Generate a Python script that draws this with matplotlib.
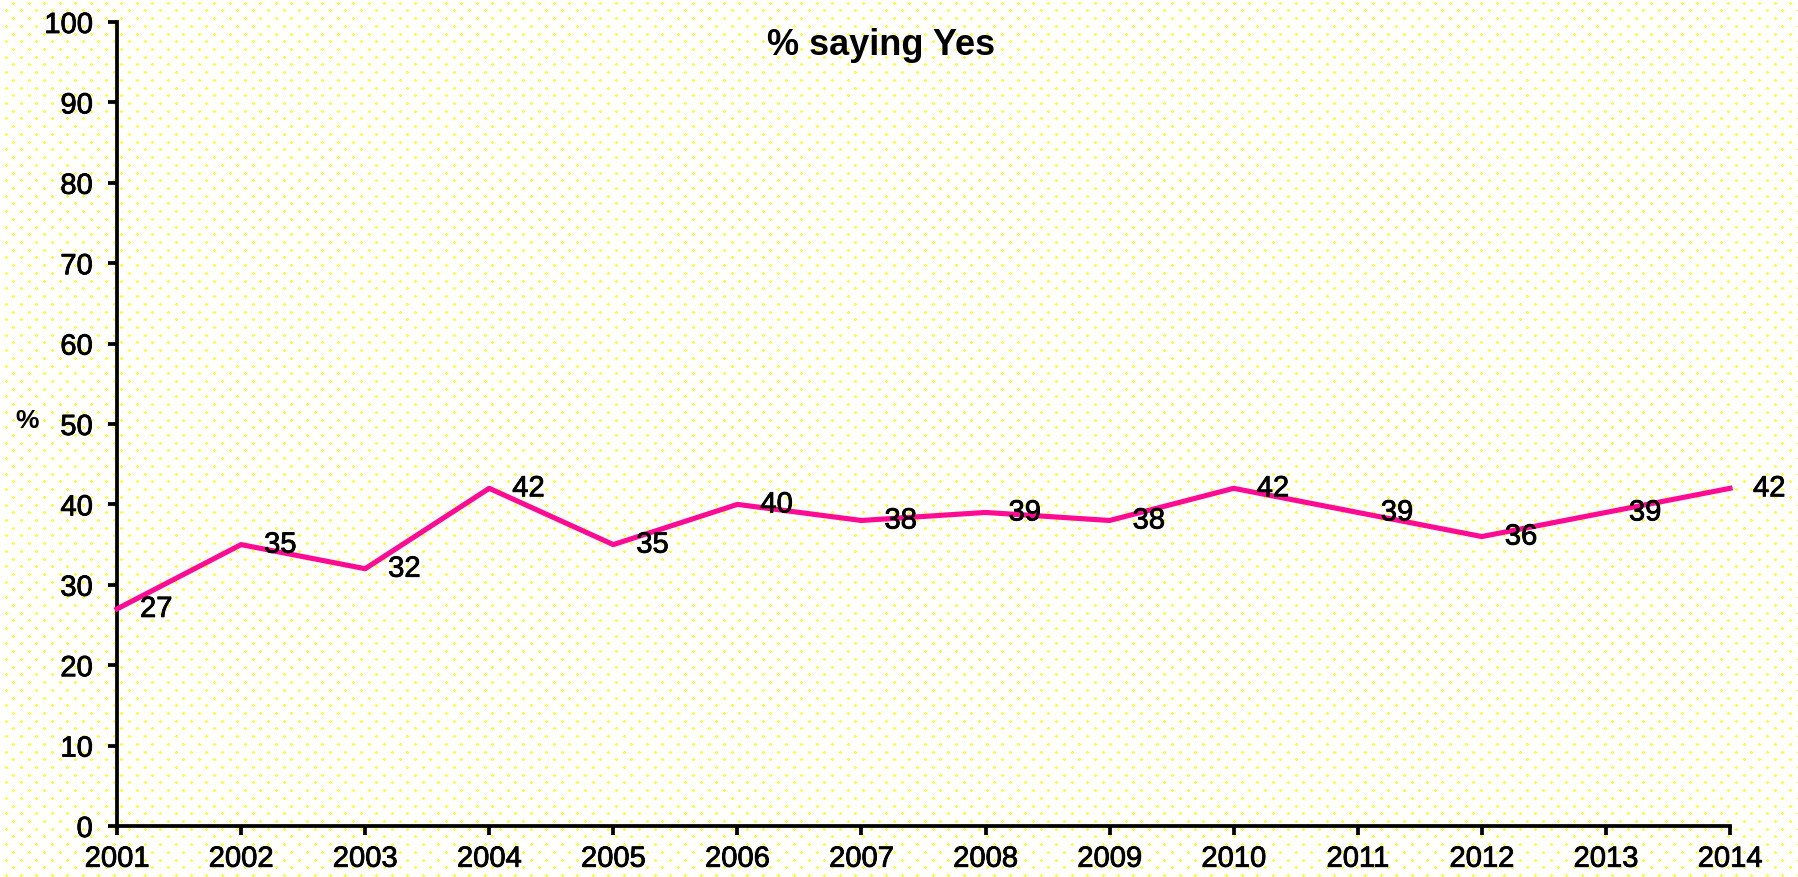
import numpy as np
import matplotlib
matplotlib.use("Agg")
import matplotlib.pyplot as plt
import matplotlib.patheffects as pe

# data
years = [2001, 2002, 2003, 2004, 2005, 2006, 2007, 2008, 2009, 2010, 2011, 2012, 2013, 2014]
pct_yes = [27, 35, 32, 42, 35, 40, 38, 39, 38, 42, 39, 36, 39, 42]
y_ticks = [0, 10, 20, 30, 40, 50, 60, 70, 80, 90, 100]

W, H, DPI = 1798, 877, 100
plt.rcParams['font.family'] = ['Liberation Sans', 'DejaVu Sans']

fig = plt.figure(figsize=(W / DPI, H / DPI), dpi=DPI)

# dotted yellow background (staggered grid)
bg = np.ones((H, W, 3))
yellow = np.array([1.0, 1.0, 0.0])
light = np.array([1.0, 1.0, 0.5])
faint = np.array([1.0, 1.0, 0.75])
row = 0
yy = 2.7
while yy < H:
    off = 13.3 if row % 2 == 0 else 5.6
    xx = off
    while xx < W:
        cx, cy = int(round(xx)), int(round(yy))
        for dx in (-1, 0, 1):
            for dy in (-1, 0, 1):
                px, py = cx + dx, cy + dy
                if 0 <= px < W and 0 <= py < H:
                    if dx == 0 and dy == 0:
                        bg[py, px] = light
                    elif dx == 0 or dy == 0:
                        bg[py, px] = yellow
                    else:
                        bg[py, px] = faint
        xx += 15.45
    yy += 7.72
    row += 1
fig.figimage(bg[::-1], xo=0, yo=0, origin='lower', zorder=-1)
fig.patch.set_alpha(0)

# heavier text, closer to the bitmap look of the original
heavy = [pe.withStroke(linewidth=0.6, foreground='black')]

ax = fig.add_axes([117 / W, 1 - 826 / H, (1730 - 117) / W, (826 - 22) / H])
ax.patch.set_visible(False)

ax.plot(years, pct_yes, color='#FF0A92', linewidth=3.7, clip_on=False, zorder=3)
for x, v in zip(years, pct_yes):
    ax.annotate(str(v), (x, v), xytext=(23, 0), textcoords='offset pixels',
                ha='left', va='center', fontsize=21, color='black', zorder=4,
                path_effects=heavy)

ax.set_xlim(2001, 2014)
ax.set_ylim(0, 100)
ax.set_xticks(years)
ax.set_xticklabels([str(y) for y in years])
ax.set_yticks(y_ticks)
ax.set_yticklabels([str(t) for t in y_ticks])
for lbl in ax.get_xticklabels() + ax.get_yticklabels():
    lbl.set_path_effects(heavy)

for s in ['top', 'right']:
    ax.spines[s].set_visible(False)
for s in ['left', 'bottom']:
    ax.spines[s].set_linewidth(2.7)
    ax.spines[s].set_color('black')
    ax.spines[s].set_capstyle('projecting')

ax.tick_params(axis='y', direction='out', length=6.5, width=2.7, pad=11, labelsize=21)
ax.tick_params(axis='x', direction='out', length=6.5, width=2.7, pad=7, labelsize=21)

fig.text(881 / W, 1 - 55 / H, '% saying Yes', ha='center', va='baseline',
         fontsize=26, fontweight='bold')
fig.text(27 / W, 1 - 428 / H, '%', ha='center', va='baseline', fontsize=19, fontweight='bold')

fig.savefig('out.png', dpi=DPI)
